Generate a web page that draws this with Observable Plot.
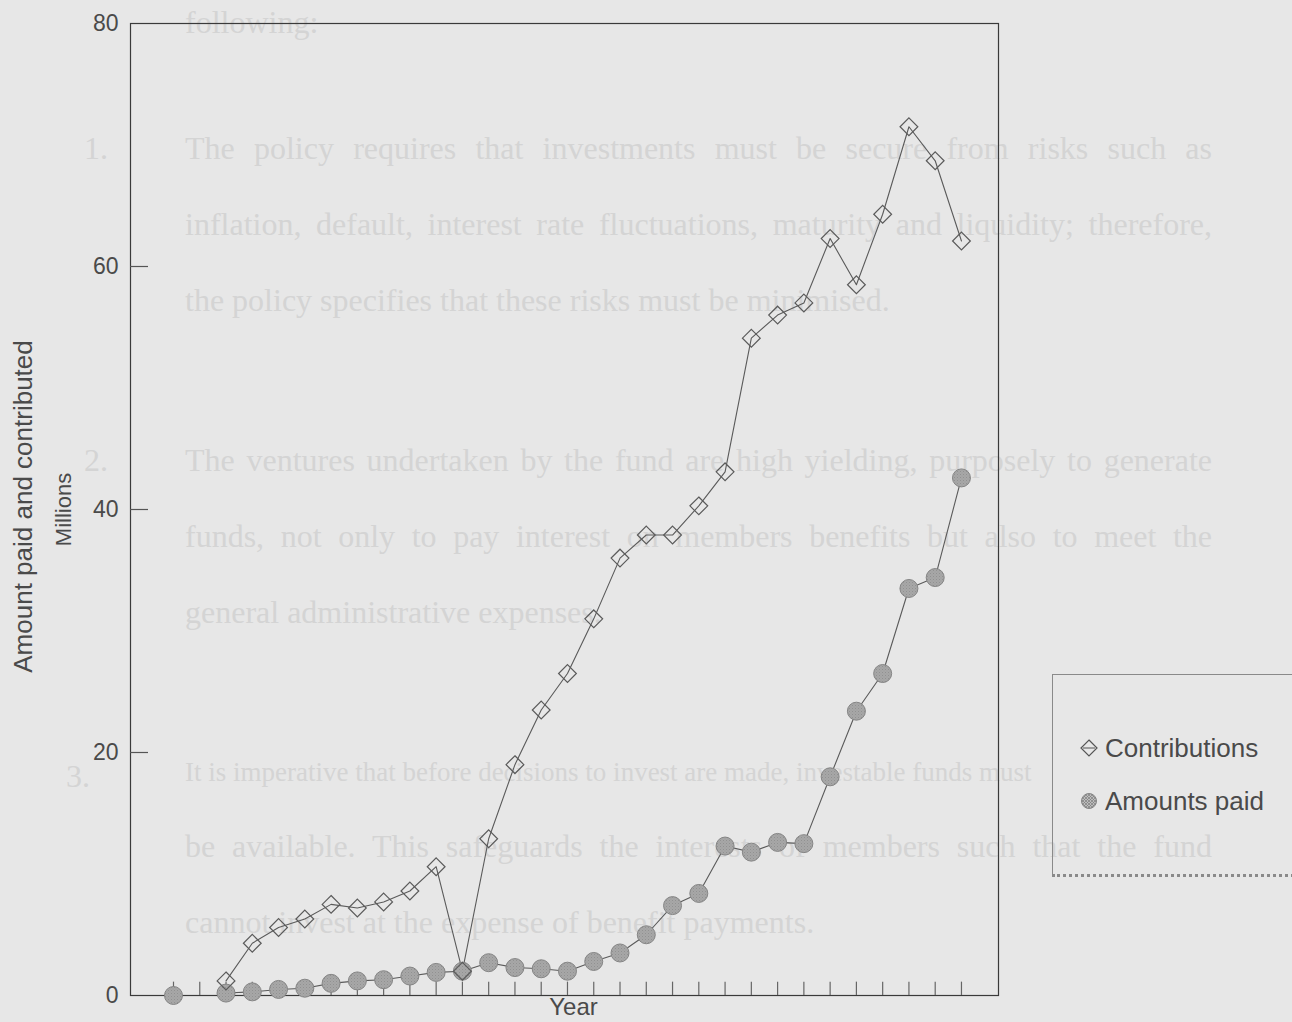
<!DOCTYPE html>
<html>
<head>
<meta charset="utf-8">
<script src="https://cdn.jsdelivr.net/npm/d3@7"></script>
<script src="https://cdn.jsdelivr.net/npm/@observablehq/plot@0.6"></script>
<style>
  html, body { margin: 0; padding: 0; width: 1292px; height: 1022px; overflow: hidden; background: #e7e7e7; }
  #page { position: relative; width: 1292px; height: 1022px; }
  .bg { position: absolute; font-family: "Liberation Serif", serif; font-size: 32px; line-height: 28px; color: #d4d4d4; white-space: nowrap; }
  .just { width: 1027px; text-align: justify; text-align-last: justify; white-space: normal; }
  .short { font-size: 27px; line-height: 24px; }
  #chart { position: absolute; left: 0; top: 0; }
  #legend { position: absolute; left: 1052px; top: 674px; width: 260px; height: 203px; border: 1px solid #8a8a8a; border-bottom: 3px dotted #8a8a8a; box-sizing: border-box; font-family: "Liberation Sans", Arial, sans-serif; font-size: 26px; line-height: 22px; color: #4a4a4a; }
  .item { position: absolute; left: 26px; display: flex; align-items: center; height: 22px; }
  .item svg { margin-right: 6px; }
</style>
</head>
<body>
<div id="page">
  <div id="bgtext"></div>
  <div id="chart"></div>
  <div id="legend">
    <div class="item" style="top:62px;">
      <svg width="20" height="20" viewBox="-10 -10 20 20"><path d="M0,-8L8,0L0,8L-8,0Z" fill="none" stroke="#555" stroke-width="1.2"/><path d="M-6,0H6" stroke="#555" stroke-width="1"/></svg>
      <span>Contributions</span>
    </div>
    <div class="item" style="top:115px;">
      <svg width="20" height="20" viewBox="-10 -10 20 20"><defs><pattern id="hatchL" width="3" height="3" patternUnits="userSpaceOnUse"><rect width="3" height="3" fill="#bdbdbd"/><path d="M0,0L3,3M3,0L0,3" stroke="#7e7e7e" stroke-width="0.7"/></pattern></defs><circle r="7.5" fill="url(#hatchL)" stroke="#858585"/></svg>
      <span>Amounts paid</span>
    </div>
  </div>
</div>
<script>
// ---- data ----
const years = [1, 2, 3, 4, 5, 6, 7, 8, 9, 10, 11, 12, 13, 14, 15, 16, 17, 18, 19, 20, 21, 22, 23, 24, 25, 26, 27, 28, 29, 30, 31];
const contributions = [null, null, 1.2, 4.3, 5.6, 6.3, 7.5, 7.2, 7.7, 8.6, 10.6, 2.0, 12.9, 19.0, 23.5, 26.5, 31.0, 36.0, 37.9, 37.9, 40.3, 43.1, 54.1, 56.0, 57.0, 62.3, 58.5, 64.3, 71.5, 68.7, 62.1];
const amountsPaid = [0, null, 0.2, 0.3, 0.5, 0.6, 1.0, 1.2, 1.3, 1.6, 1.9, 2.0, 2.7, 2.3, 2.2, 2.0, 2.8, 3.5, 5.0, 7.4, 8.4, 12.3, 11.8, 12.6, 12.5, 18.0, 23.4, 26.5, 33.5, 34.4, 42.6];
const yTicks = [0, 20, 40, 60, 80];
const yInnerTicks = [20, 40, 60];
const seriesNames = ["Contributions", "Amounts paid"];
const yLabel = "Amount paid and contributed";
const yUnit = "Millions";
const xLabel = "Year";

// faint bleed-through text of the scanned page
const bgLines = [
  {t: "following:", x: 185, y: 22, cls: ""},
  {t: "1.", x: 84, y: 148, cls: ""},
  {t: "The policy requires that investments must be secure from risks such as", x: 185, y: 148, cls: "just"},
  {t: "inflation, default, interest rate fluctuations, maturity and liquidity; therefore,", x: 185, y: 224, cls: "just"},
  {t: "the policy specifies that these risks must be minimised.", x: 185, y: 300, cls: ""},
  {t: "2.", x: 84, y: 460, cls: ""},
  {t: "The ventures undertaken by the fund are high yielding, purposely to generate", x: 185, y: 460, cls: "just"},
  {t: "funds, not only to pay interest on members benefits but also to meet the", x: 185, y: 536, cls: "just"},
  {t: "general administrative expenses.", x: 185, y: 612, cls: ""},
  {t: "3.", x: 66, y: 776, cls: ""},
  {t: "It is imperative that before decisions to invest are made, investable funds must", x: 185, y: 774, cls: "short"},
  {t: "be available.  This safeguards the interests of members such that the fund", x: 185, y: 846, cls: "just"},
  {t: "cannot invest at the expense of benefit payments.", x: 185, y: 922, cls: ""}
];
const bg = document.getElementById("bgtext");
for (const l of bgLines) {
  const d = document.createElement("div");
  d.className = "bg " + l.cls;
  d.style.left = l.x + "px";
  d.style.top = (l.y - 14) + "px";
  d.textContent = l.t;
  bg.appendChild(d);
}

const rows = years.map((yr, i) => ({
  yr,
  c: contributions[i] == null ? NaN : contributions[i],
  a: amountsPaid[i] == null ? NaN : amountsPaid[i]
}));

const xMin = -0.637, xMax = 32.41;
const ink = "#5a5a5a";
const textInk = "#4a4a4a";

const chart = Plot.plot({
  width: 1292,
  height: 1022,
  marginLeft: 130,
  marginRight: 294,
  marginTop: 23,
  marginBottom: 27,
  style: {fontFamily: "Liberation Sans, Arial, sans-serif", fontSize: "23px", color: textInk, background: "transparent"},
  x: {domain: [xMin, xMax], axis: null},
  y: {domain: [0, 80], axis: null},
  marks: [
    Plot.frame({stroke: "#3a3a3a", strokeWidth: 1.2}),
    // inward x ticks at every year
    Plot.ruleX(years, {x: d => d, y1: 0, y2: 1.1, stroke: "#666", strokeWidth: 1.2}),
    // inward y ticks
    Plot.ruleY(yInnerTicks, {y: d => d, x1: xMin, x2: xMin + 0.685, stroke: "#555", strokeWidth: 1.2}),
    Plot.axisY(yTicks, {tickSize: 0, tickPadding: 12, fontSize: 23, label: null}),
    Plot.text([yLabel], {text: d => d, frameAnchor: "left", textAnchor: "middle", rotate: -90, dx: -107, dy: -3, fontSize: 26, fill: textInk}),
    Plot.text([yUnit], {text: d => d, frameAnchor: "left", textAnchor: "middle", rotate: -90, dx: -67, dy: 0, fontSize: 22, fill: textInk}),
    Plot.text([xLabel], {text: d => d, frameAnchor: "bottom", lineAnchor: "middle", dy: 12, dx: 9, fontSize: 24, fill: textInk}),
    Plot.line(rows, {x: "yr", y: "a", stroke: ink, strokeWidth: 1.1}),
    Plot.line(rows, {x: "yr", y: "c", stroke: ink, strokeWidth: 1.1}),
    Plot.dot(rows.filter(d => !isNaN(d.a)), {x: "yr", y: "a", r: 9, fill: "url(#hatch)", stroke: "#858585", strokeWidth: 1}),
    Plot.dot(rows.filter(d => !isNaN(d.c)), {x: "yr", y: "c", r: 8, symbol: "diamond2", fill: "none", stroke: ink, strokeWidth: 1.2})
  ]
});

const ns = "http://www.w3.org/2000/svg";
const defs = document.createElementNS(ns, "defs");
defs.innerHTML = '<pattern id="hatch" width="3" height="3" patternUnits="userSpaceOnUse"><rect width="3" height="3" fill="#bdbdbd"/><path d="M0,0L3,3M3,0L0,3" stroke="#7e7e7e" stroke-width="0.7"/></pattern>';
chart.insertBefore(defs, chart.firstChild);
document.getElementById("chart").appendChild(chart);
</script>
</body>
</html>
